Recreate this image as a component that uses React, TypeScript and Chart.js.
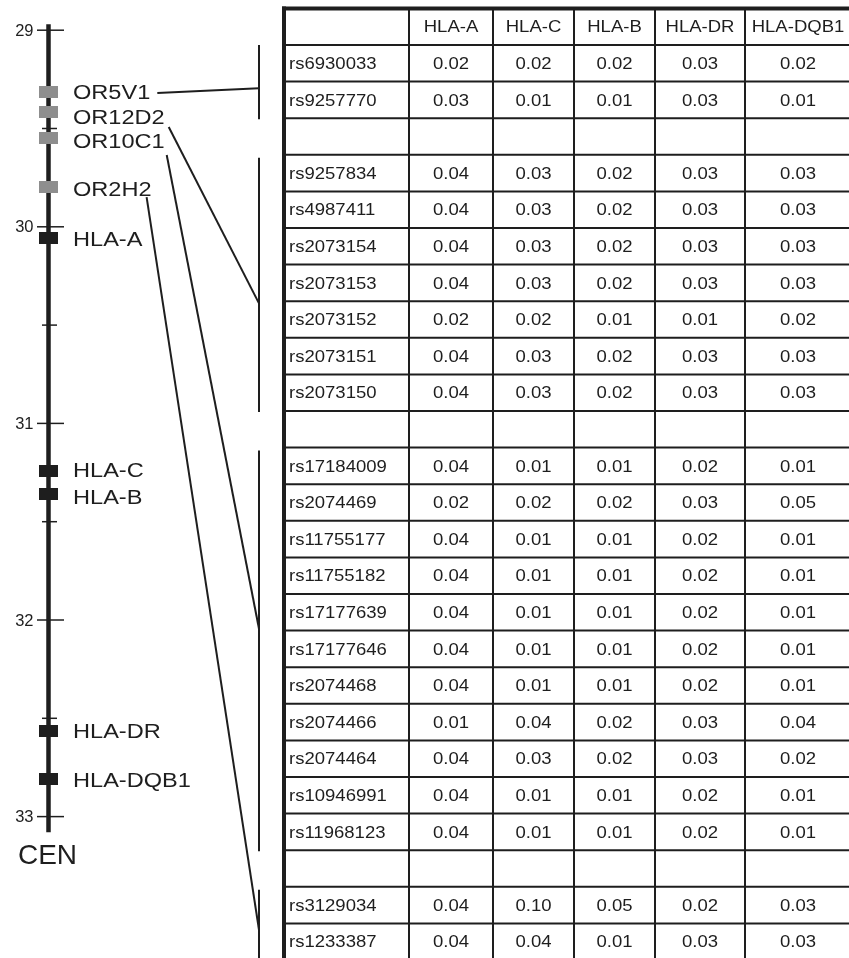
import React, { useEffect, useRef } from 'react';
import { Chart, registerables } from 'chart.js';

Chart.register(...registerables);

// ---------------- data ----------------
const geneNames = ['OR5V1', 'OR12D2', 'OR10C1', 'OR2H2', 'HLA-A', 'HLA-C', 'HLA-B', 'HLA-DR', 'HLA-DQB1'];
const genePositionsMb = [29.314, 29.416, 29.548, 29.798, 30.057, 31.242, 31.359, 32.565, 32.809];
const geneIsHla = [false, false, false, false, true, true, true, true, true];
const axisTicksMb = [29, 30, 31, 32, 33];
const minorTicksMb = [29.5, 30.5, 31.5, 32.5];
const chromosomeSpanMb = [28.97, 33.08];
const centromereLabel = 'CEN';

const tableHeaders = ['', 'HLA-A', 'HLA-C', 'HLA-B', 'HLA-DR', 'HLA-DQB1'];
const snpIds: (string | null)[] = [
  'rs6930033', 'rs9257770', null,
  'rs9257834', 'rs4987411', 'rs2073154', 'rs2073153', 'rs2073152', 'rs2073151', 'rs2073150', null,
  'rs17184009', 'rs2074469', 'rs11755177', 'rs11755182', 'rs17177639', 'rs17177646', 'rs2074468',
  'rs2074466', 'rs2074464', 'rs10946991', 'rs11968123', null,
  'rs3129034', 'rs1233387',
];
const hlaA = [0.02, 0.03, null, 0.04, 0.04, 0.04, 0.04, 0.02, 0.04, 0.04, null, 0.04, 0.02, 0.04, 0.04, 0.04, 0.04, 0.04, 0.01, 0.04, 0.04, 0.04, null, 0.04, 0.04];
const hlaC = [0.02, 0.01, null, 0.03, 0.03, 0.03, 0.03, 0.02, 0.03, 0.03, null, 0.01, 0.02, 0.01, 0.01, 0.01, 0.01, 0.01, 0.04, 0.03, 0.01, 0.01, null, 0.10, 0.04];
const hlaB = [0.02, 0.01, null, 0.02, 0.02, 0.02, 0.02, 0.01, 0.02, 0.02, null, 0.01, 0.02, 0.01, 0.01, 0.01, 0.01, 0.01, 0.02, 0.02, 0.01, 0.01, null, 0.05, 0.01];
const hlaDR = [0.03, 0.03, null, 0.03, 0.03, 0.03, 0.03, 0.01, 0.03, 0.03, null, 0.02, 0.03, 0.02, 0.02, 0.02, 0.02, 0.02, 0.03, 0.03, 0.02, 0.02, null, 0.02, 0.03];
const hlaDQB1 = [0.02, 0.01, null, 0.03, 0.03, 0.03, 0.03, 0.02, 0.03, 0.03, null, 0.01, 0.05, 0.01, 0.01, 0.01, 0.01, 0.01, 0.04, 0.02, 0.01, 0.01, null, 0.03, 0.03];
const linkedGenes = ['OR5V1', 'OR12D2', 'OR10C1', 'OR2H2'];

// ---------------- layout / style ----------------
const W = 849;
const H = 958;
const INK = '#1e1e1e';
const GRAY = '#8e8e8e';
const FONT = '"Liberation Sans", Arial, Helvetica, sans-serif';
const CHR_X = 48.5;
const CHR_W = 4.5;
const MB_MIN = 28.8464;
const MB_MAX = 33.7192;
const ROW_MIN = -0.7295;
const ROW_MAX = 25.4459;
const COL_EDGES = [284, 409, 493, 574, 655, 745, 851];
const BRACKET_X = 259;
const LABEL_X = 73;
const LABEL_DY = [1, 6, 4, 3, 2, 0, 4, 1, 2];
const LINK_START = [
  [7, 0],
  [4, 9],
  [2, 13],
  [-5, 7],
];
const LINK_TARGET_FRAC = [0.59, 0.58, 0.45, 0.59];

function drawText(
  ctx: CanvasRenderingContext2D,
  s: string,
  x: number,
  y: number,
  size: number,
  align: CanvasTextAlign,
  stretch: number
) {
  ctx.save();
  ctx.font = `${size}px ${FONT}`;
  ctx.textBaseline = 'middle';
  ctx.textAlign = align;
  ctx.fillStyle = INK;
  ctx.translate(x, y);
  ctx.scale(stretch, 1);
  ctx.fillText(s, 0, 0);
  ctx.restore();
}

function textWidth(ctx: CanvasRenderingContext2D, s: string, size: number, stretch: number) {
  ctx.save();
  ctx.font = `${size}px ${FONT}`;
  const w = ctx.measureText(s).width * stretch;
  ctx.restore();
  return w;
}

function seg(ctx: CanvasRenderingContext2D, x1: number, y1: number, x2: number, y2: number, lw: number) {
  ctx.lineWidth = lw;
  ctx.beginPath();
  ctx.moveTo(x1, y1);
  ctx.lineTo(x2, y2);
  ctx.stroke();
}

const figurePlugin = {
  id: 'hlaFigure',
  beforeDatasetsDraw(chart: any) {
    const ctx: CanvasRenderingContext2D = chart.ctx;
    const xs = chart.scales.x;
    const ys = chart.scales.y;
    const cx = xs.getPixelForValue(CHR_X);
    ctx.save();
    ctx.strokeStyle = INK;
    ctx.lineCap = 'butt';
    seg(ctx, cx, ys.getPixelForValue(chromosomeSpanMb[0]), cx, ys.getPixelForValue(chromosomeSpanMb[1]), CHR_W);
    axisTicksMb.forEach((v) => {
      const y = ys.getPixelForValue(v);
      seg(ctx, cx - 11.5, y, cx + 15.5, y, 1.5);
      drawText(ctx, String(v), cx - 15, y + 1, 16.5, 'right', 1);
    });
    minorTicksMb.forEach((v) => {
      const y = ys.getPixelForValue(v);
      seg(ctx, cx - 6.5, y, cx + 8.5, y, 1.5);
    });
    ctx.restore();
  },
  afterDatasetsDraw(chart: any) {
    const ctx: CanvasRenderingContext2D = chart.ctx;
    const xs = chart.scales.x;
    const ys = chart.scales.y;
    const rs = chart.scales.row;
    const cx = xs.getPixelForValue(CHR_X);
    ctx.save();
    ctx.strokeStyle = INK;

    // gene labels
    const labelSize = 20.5;
    const labelStretch = 1.15;
    const labelEnds: Record<string, [number, number]> = {};
    geneNames.forEach((g, i) => {
      const y = ys.getPixelForValue(genePositionsMb[i]) + LABEL_DY[i];
      const lx = xs.getPixelForValue(LABEL_X);
      drawText(ctx, g, lx, y, labelSize, 'left', labelStretch);
      labelEnds[g] = [lx + textWidth(ctx, g, labelSize, labelStretch), y];
    });

    // centromere label
    drawText(ctx, centromereLabel, cx - 1, ys.getPixelForValue(chromosomeSpanMb[1]) + 24, 28, 'center', 1);

    // SNP groups (contiguous rows)
    const groups: [number, number][] = [];
    let start = -1;
    snpIds.forEach((id, i) => {
      if (id !== null && start < 0) start = i;
      if ((id === null || i === snpIds.length - 1) && start >= 0) {
        groups.push([start, id === null ? i - 1 : i]);
        start = -1;
      }
    });
    const bx = xs.getPixelForValue(BRACKET_X);
    groups.forEach((gr, gi) => {
      const top = rs.getPixelForValue(gr[0] + 1 - 0.5);
      const bot = rs.getPixelForValue(gr[1] + 1 + 0.5);
      seg(ctx, bx, top + (gi === 0 ? 0 : 3), bx, bot + 1, 2);
      const gene = linkedGenes[gi];
      if (gene && labelEnds[gene]) {
        const [ex, ey] = labelEnds[gene];
        const ty = top + (bot - top) * LINK_TARGET_FRAC[gi];
        seg(ctx, ex + LINK_START[gi][0], ey + LINK_START[gi][1], bx, ty, 2);
      }
    });

    // table
    const tSize = 17;
    const tStretch = 1.09;
    const n = snpIds.length;
    const tableTop = rs.getPixelForValue(-0.5);
    const tableBottom = rs.getPixelForValue(n + 0.5);
    const left = xs.getPixelForValue(COL_EDGES[0]);
    const right = xs.getPixelForValue(COL_EDGES[COL_EDGES.length - 1]);
    for (let i = 0; i < n; i++) {
      const y = rs.getPixelForValue(i + 0.5);
      seg(ctx, left, y, right, y, 2);
    }
    for (let c = 1; c < COL_EDGES.length - 1; c++) {
      const x = xs.getPixelForValue(COL_EDGES[c]);
      seg(ctx, x, tableTop, x, tableBottom, 2);
    }
    seg(ctx, left, tableTop - 2, left, tableBottom, 4);
    seg(ctx, left - 2, tableTop, right, tableTop, 4);

    const colCenter = (c: number) =>
      (xs.getPixelForValue(COL_EDGES[c]) + xs.getPixelForValue(COL_EDGES[c + 1])) / 2;
    tableHeaders.forEach((h, c) => {
      if (h) drawText(ctx, h, colCenter(c), rs.getPixelForValue(0) + 0.5, tSize, 'center', tStretch);
    });
    const cols = [hlaA, hlaC, hlaB, hlaDR, hlaDQB1];
    snpIds.forEach((id, i) => {
      if (id === null) return;
      const y = rs.getPixelForValue(i + 1) + 1;
      drawText(ctx, id, left + 5, y, tSize, 'left', tStretch);
      cols.forEach((arr, c) => {
        const v = arr[i];
        if (v !== null && v !== undefined) drawText(ctx, v.toFixed(2), colCenter(c + 1), y, tSize, 'center', tStretch);
      });
    });
    ctx.restore();
  },
};

export default function App() {
  const ref = useRef<HTMLCanvasElement>(null);
  useEffect(() => {
    document.body.style.margin = '0';
    const canvas = ref.current;
    if (!canvas) return;
    const makeBox = (color: string) => {
      const c = document.createElement('canvas');
      c.width = 19;
      c.height = 12;
      const g = c.getContext('2d')!;
      g.fillStyle = color;
      g.fillRect(0, 0, 19, 12);
      return c;
    };
    const grayPts = geneNames
      .map((_, i) => i)
      .filter((i) => !geneIsHla[i])
      .map((i) => ({ x: CHR_X, y: genePositionsMb[i] }));
    const hlaPts = geneNames
      .map((_, i) => i)
      .filter((i) => geneIsHla[i])
      .map((i) => ({ x: CHR_X, y: genePositionsMb[i] }));
    const chart = new Chart(canvas, {
      type: 'scatter',
      data: {
        datasets: [
          { label: 'OR genes', data: grayPts, pointStyle: makeBox(GRAY) as any, xAxisID: 'x', yAxisID: 'y', clip: false as any },
          { label: 'HLA genes', data: hlaPts, pointStyle: makeBox(INK) as any, xAxisID: 'x', yAxisID: 'y', clip: false as any },
        ],
      },
      options: {
        responsive: false,
        animation: false,
        devicePixelRatio: 1,
        layout: { padding: 0, autoPadding: false },
        events: [],
        plugins: { legend: { display: false }, tooltip: { enabled: false } },
        scales: {
          x: { type: 'linear', min: 0, max: W, display: false },
          y: { type: 'linear', min: MB_MIN, max: MB_MAX, reverse: true, display: false },
          row: { type: 'linear', axis: 'y', min: ROW_MIN, max: ROW_MAX, reverse: true, display: false },
        },
      },
      plugins: [figurePlugin],
    });
    return () => chart.destroy();
  }, []);
  return (
    <div style={{ width: W, height: H, background: '#fff' }}>
      <canvas ref={ref} width={W} height={H} style={{ display: 'block', width: W, height: H }} />
    </div>
  );
}
